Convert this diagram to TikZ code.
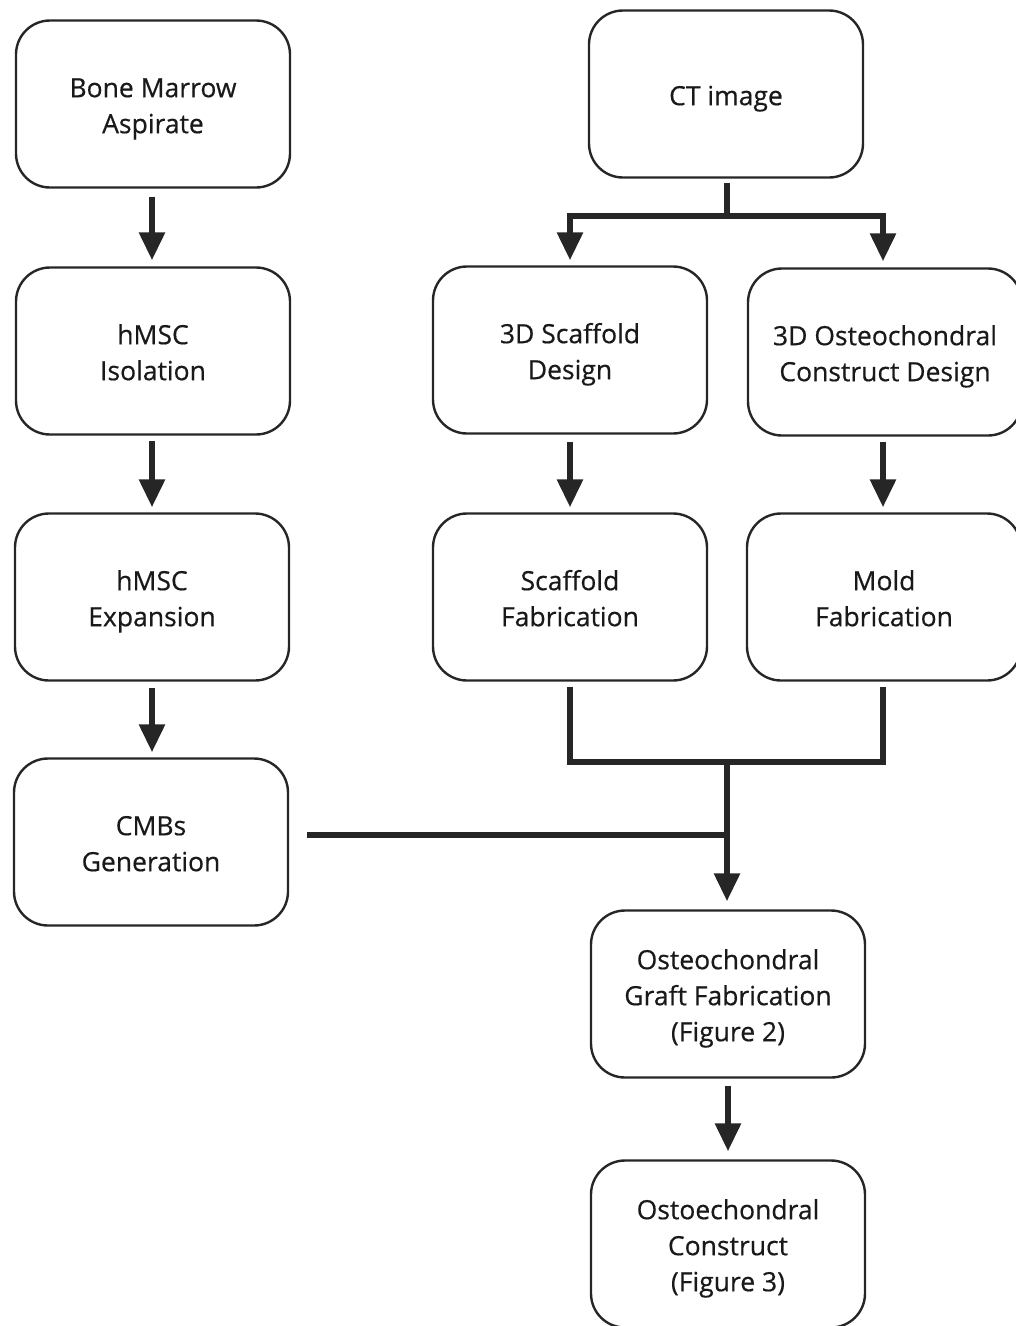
\documentclass[tikz,border=0pt]{standalone}
\usepackage{fontspec}
\setmainfont{Open Sans}
\newfontfamily\boxfont{Open Sans}[FakeBold=0.5]
\usetikzlibrary{arrows.meta}
\newcommand{\tx}[1]{\raisebox{-8pt}[\dimexpr\height-8pt\relax][\depth]{\begin{tabular}{@{}c@{}}#1\end{tabular}}}
\begin{document}
\begin{tikzpicture}[x=1pt,y=-1pt,
  box/.style={draw=black!85, line width=2.4pt, rounded corners=34pt, minimum width=274pt, minimum height=167pt, align=center, inner sep=0pt, font=\boxfont\fontsize{26.5}{36}\selectfont, text=black!90},
  conn/.style={draw=black!85, line width=6pt},
  arr/.style={conn, -{Triangle[length=28pt,width=25pt]}}]
\useasboundingbox (0,0) rectangle (1016,1326);
\clip (0,0) rectangle (1016,1326);
\node[box] (bma) at (153,104) {\tx{Bone Marrow\\Aspirate}};
\node[box] (iso) at (153,351) {\tx{hMSC\\Isolation}};
\node[box] (exp) at (152,597) {\tx{hMSC\\Expansion}};
\node[box] (cmb) at (151,842) {\tx{CMBs\\Generation}};
\node[box] (ct) at (726,94) {\tx{CT image}};
\node[box] (sd) at (570,350) {\tx{3D Scaffold\\Design}};
\node[box] (od) at (885,352) {\tx{3D Osteochondral\\Construct Design}};
\node[box] (sf) at (570,597) {\tx{Scaffold\\Fabrication}};
\node[box] (mf) at (884,597) {\tx{Mold\\Fabrication}};
\node[box] (gf) at (728,994) {\tx{Osteochondral\\Graft Fabrication\\(Figure 2)}};
\node[box] (oc) at (728,1244) {\tx{Ostoechondral\\Construct\\(Figure 3)}};
% left column
\draw[arr] ([yshift=-8pt]bma.south -| 152,0) -- ([yshift=6pt]iso.north -| 152,0);
\draw[arr] ([yshift=-5pt]iso.south -| 152,0) -- ([yshift=5pt]exp.north -| 152,0);
\draw[arr] ([yshift=-6pt]exp.south -| 152,0) -- ([yshift=5pt]cmb.north -| 152,0);
% CT split
\coordinate (ctj) at (727,216);
\draw[conn] ([yshift=-4pt]ct.south -| ctj) -- (ctj);
\draw[arr, line cap=rect] (ctj) -| ([yshift=5pt]sd.north);
\draw[arr, line cap=rect] (ctj) -| ([yshift=6pt]od.north -| 883,0);
\draw[arr] ([yshift=-7pt]sd.south) -- ([yshift=5pt]sf.north);
\draw[arr] ([yshift=-5pt]od.south -| 883,0) -- ([yshift=5pt]mf.north -| 883,0);
% merge
\coordinate (mj) at (727,762);
\coordinate (cj) at (727,835);
\draw[conn, line join=miter] ([yshift=-5pt]sf.south) |- (mj) -| ([yshift=-5pt]mf.south -| 883,0);
\draw[arr] (mj) -- ([yshift=8pt]gf.north -| 727,0);
\draw[conn] (307,835) -- (cj);
\draw[arr] ([yshift=-7pt]gf.south) -- ([yshift=8pt]oc.north);
\end{tikzpicture}
\end{document}
